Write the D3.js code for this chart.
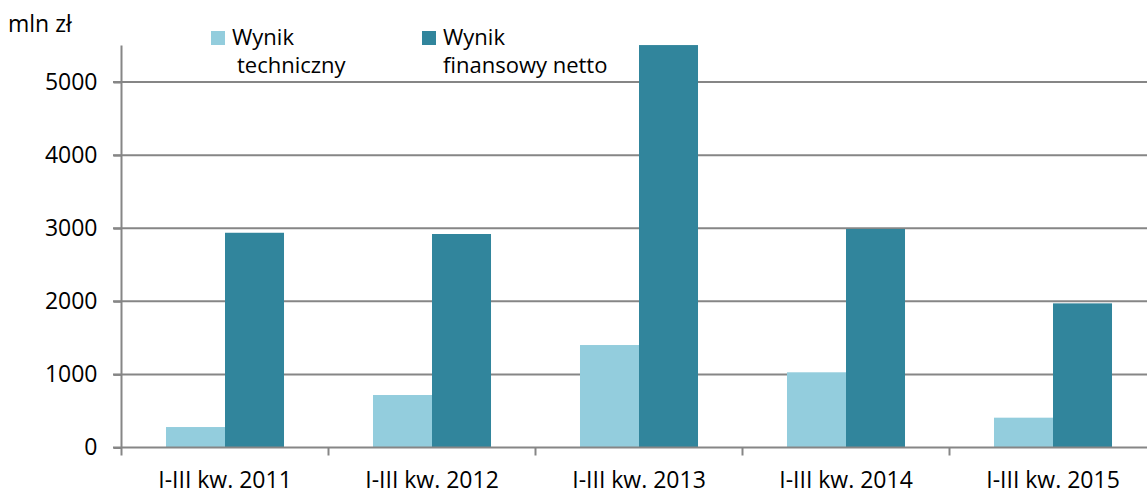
<!DOCTYPE html>
<html>
<head>
<meta charset="utf-8">
<script src="https://cdn.jsdelivr.net/npm/d3@7/dist/d3.min.js"></script>
<style>
  html, body { margin: 0; padding: 0; background: #fff; }
  svg { display: block; }
  text { font-family: "Open Sans", sans-serif; fill: #000; }
</style>
</head>
<body>
<svg id="chart" width="1147" height="492"></svg>
<script>
const categories = ["I-III kw. 2011", "I-III kw. 2012", "I-III kw. 2013", "I-III kw. 2014", "I-III kw. 2015"];
const seriesNames = ["Wynik techniczny", "Wynik finansowy netto"];
const wynikTechniczny = [280, 718, 1402, 1029, 408];
const wynikFinansowy = [2938, 2921, 5506, 2990, 1972];
const yTicks = [0, 1000, 2000, 3000, 4000, 5000];
const yUnit = "mln zł";

const colors = ["#93CDDD", "#31859C"];
const svg = d3.select("#chart");

const x0 = d3.scaleBand().domain(categories).range([121.5, 1156.5]).paddingInner(0).paddingOuter(0);
const x1 = d3.scaleBand().domain(seriesNames).range([0, x0.bandwidth()]).paddingInner(0).paddingOuter(0.754);
const y = d3.scaleLinear().domain([0, 5500]).range([447.5, 45.5]);

// gridlines
svg.append("g").selectAll("line").data(yTicks.filter(d => d > 0)).join("line")
  .attr("x1", 113).attr("x2", 1147)
  .attr("y1", d => y(d)).attr("y2", d => y(d))
  .attr("stroke", "#868686").attr("stroke-width", 2);

// bars
const data = categories.map((c, i) => ({ cat: c, vals: [wynikTechniczny[i], wynikFinansowy[i]] }));
const groups = svg.append("g").selectAll("g").data(data).join("g")
  .attr("transform", d => `translate(${x0(d.cat)},0)`);
groups.selectAll("rect").data(d => d.vals.map((v, k) => ({ k, v }))).join("rect")
  .attr("x", d => x1(seriesNames[d.k]))
  .attr("width", x1.bandwidth())
  .attr("y", d => y(d.v))
  .attr("height", d => y(0) - y(d.v))
  .attr("fill", d => colors[d.k]);

// y axis
const yAxis = d3.axisLeft(y).tickValues(yTicks).tickSize(8).tickPadding(16).tickFormat(d3.format("d"));
const gy = svg.append("g").attr("transform", "translate(121.5,0)").call(yAxis);
gy.select(".domain").attr("stroke", "#868686").attr("stroke-width", 2).attr("d", `M0,${y(5500)}V${y(0)}`);
gy.selectAll(".tick line").attr("stroke", "#868686").attr("stroke-width", 2);
gy.selectAll(".tick text").style("font-family", "'Open Sans', sans-serif").style("font-size", "23px").attr("fill", "#000");

// x axis
const xAxis = d3.axisBottom(x0).tickSize(0).tickPadding(24);
const gx = svg.append("g").attr("transform", `translate(0,${y(0)})`).call(xAxis);
gx.select(".domain").attr("stroke", "#868686").attr("stroke-width", 2).attr("d", `M113,0H1147`);
gx.selectAll(".tick text").style("font-family", "'Open Sans', sans-serif").style("font-size", "23px").attr("fill", "#000");
// category separators
const seps = categories.map(c => x0(c)).concat([x0.range()[1]]);
svg.append("g").selectAll("line").data(seps).join("line")
  .attr("x1", d => d).attr("x2", d => d)
  .attr("y1", y(0)).attr("y2", y(0) + 8)
  .attr("stroke", "#868686").attr("stroke-width", 2);

// unit
svg.append("text").attr("x", 8).attr("y", 32).style("font-size", "23px").text(yUnit);

// legend
const legend = [
  { sx: 211, tx: 232, lines: ["Wynik", "techniczny"], l2x: 237 },
  { sx: 422, tx: 443, lines: ["Wynik", "finansowy netto"], l2x: 443 }
];
legend.forEach((l, i) => {
  svg.append("rect").attr("x", l.sx).attr("y", 31).attr("width", 14).attr("height", 14).attr("fill", colors[i]);
  svg.append("text").attr("x", l.tx).attr("y", 45).style("font-size", "22px").text(l.lines[0]);
  svg.append("text").attr("x", l.l2x).attr("y", 73).style("font-size", "22px").text(l.lines[1]);
});
</script>
</body>
</html>
